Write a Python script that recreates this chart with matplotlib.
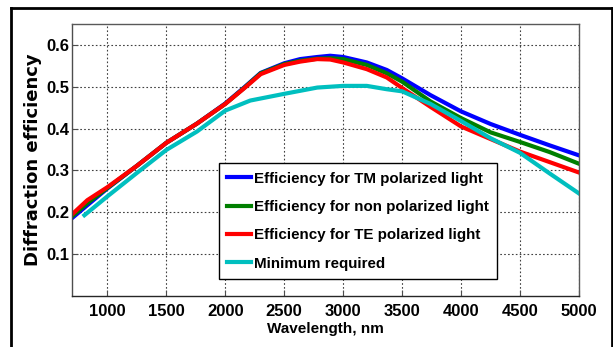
import matplotlib
matplotlib.use('Agg')
import matplotlib.pyplot as plt
from matplotlib.lines import Line2D

# wavelength grid (nm) and efficiencies
wavelength = [700, 830, 1000, 1250, 1500, 1760, 2000, 2155, 2300, 2500, 2635, 2780,
              2890, 3000, 3200, 3370, 3500, 3740, 4000, 4250, 4500, 4750, 5000]
eff_tm = [0.186, 0.217, 0.257, 0.311, 0.366, 0.412, 0.460, 0.497, 0.533, 0.556, 0.566, 0.571,
          0.574, 0.571, 0.558, 0.540, 0.520, 0.480, 0.441, 0.411, 0.385, 0.360, 0.336]
eff_non = [0.190, 0.222, 0.258, 0.311, 0.366, 0.412, 0.459, 0.496, 0.532, 0.554, 0.562, 0.567,
           0.568, 0.566, 0.552, 0.532, 0.512, 0.465, 0.425, 0.391, 0.368, 0.344, 0.316]
eff_te = [0.195, 0.229, 0.260, 0.311, 0.366, 0.412, 0.459, 0.495, 0.530, 0.552, 0.560, 0.566,
          0.565, 0.558, 0.542, 0.522, 0.497, 0.452, 0.405, 0.375, 0.345, 0.320, 0.295]

wavelength_min = [805, 1000, 1250, 1500, 1760, 2000, 2212, 2500, 2780, 3000,
                  3200, 3370, 3500, 3740, 4000, 4250, 4500, 4750, 5000]
eff_min = [0.193, 0.238, 0.294, 0.349, 0.393, 0.443, 0.467, 0.483, 0.498, 0.502,
           0.502, 0.494, 0.489, 0.459, 0.418, 0.377, 0.342, 0.293, 0.245]

x_ticks = [1000, 1500, 2000, 2500, 3000, 3500, 4000, 4500, 5000]
y_ticks = [0.1, 0.2, 0.3, 0.4, 0.5, 0.6]

fig = plt.figure(figsize=(6.13, 3.47), dpi=100)
ax = fig.add_axes([0.1175, 0.147, 0.827, 0.784])

lw = 3.0
ax.plot(wavelength, eff_tm, color='#0000ff', linewidth=lw, label='Efficiency for TM polarized light')
ax.plot(wavelength, eff_non, color='#007f00', linewidth=lw, label='Efficiency for non polarized light')
ax.plot(wavelength, eff_te, color='#ff0000', linewidth=lw, label='Efficiency for TE polarized light')
ax.plot(wavelength_min, eff_min, color='#00bfbf', linewidth=lw, label='Minimum required')

ax.set_xlim(700, 5000)
ax.set_ylim(0, 0.65)
ax.set_xticks(x_ticks)
ax.set_yticks(y_ticks)
ax.grid(True, color='0.25', linestyle=(0, (1.5, 2)), linewidth=0.8)

tick_font = dict(family='Liberation Sans', weight='bold', size=12)
ax.set_xticklabels([str(v) for v in x_ticks], fontdict=tick_font)
ax.set_yticklabels([f'{v:.1f}' for v in y_ticks], fontdict=tick_font)
ax.tick_params(direction='in', length=4, width=0.8, color='0.3')
ax.tick_params(axis='x', pad=6)
ax.tick_params(axis='y', pad=2)
for s in ax.spines.values():
    s.set_color('0.35')
    s.set_linewidth(1.0)
ax.spines['bottom'].set_color('0.15')
ax.spines['left'].set_color('0.3')

ax.set_xlabel('Wavelength, nm', family='Liberation Sans', weight='bold', size=11)
ax.xaxis.set_label_coords(0.5, -0.095)
ax.set_ylabel('Diffraction efficiency', family='DejaVu Sans', weight='bold', size=13)
ax.yaxis.set_label_coords(-0.059, 0.5)

leg = ax.legend(loc='lower left', bbox_to_anchor=(0.29, 0.0625),
                prop=dict(family='Liberation Sans', weight='bold', size=10.9),
                frameon=True, fancybox=False, edgecolor='black', framealpha=1,
                handlelength=1.55, handletextpad=0.2, labelspacing=0.95,
                borderpad=0.55, borderaxespad=0)
leg.get_frame().set_linewidth(1.0)

# outer black frame around the figure
frame_kw = dict(color='black', linewidth=2, transform=fig.transFigure)
fig.lines.append(Line2D([11 / 613, 11 / 613], [0, 1 - 8 / 347], **frame_kw))
fig.lines.append(Line2D([11 / 613, 612 / 613], [1 - 8 / 347, 1 - 8 / 347], **frame_kw))
fig.lines.append(Line2D([612 / 613, 612 / 613], [0, 1 - 8 / 347], **frame_kw))

fig.savefig('out.png', dpi=100)
